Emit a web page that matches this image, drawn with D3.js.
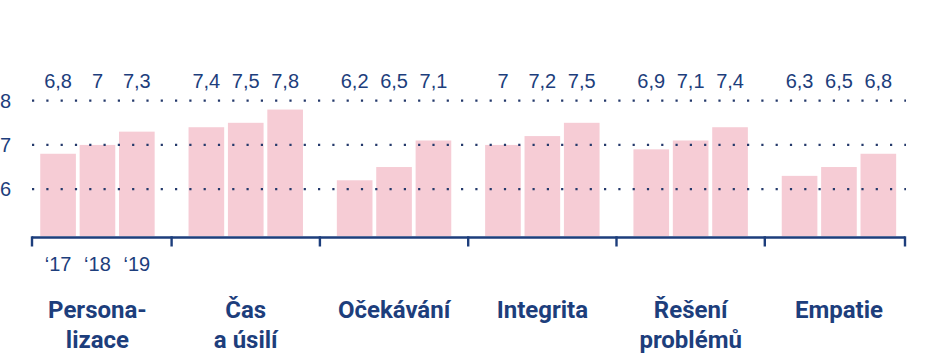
<!DOCTYPE html>
<html>
<head>
<meta charset="utf-8">
<script src="https://cdn.jsdelivr.net/npm/d3@7"></script>
<style>
  html, body { margin: 0; padding: 0; background: #fff; }
  svg { display: block; }
</style>
</head>
<body>
<svg id="chart" width="937" height="357"></svg>
<script>
// ---- data ----
const categories = [["Persona-", "lizace"], ["Čas", "a úsilí"], ["Očekávání"], ["Integrita"], ["Řešení", "problémů"], ["Empatie"]];
const years = ["‘17", "‘18", "‘19"];
const values2017 = [6.8, 7.4, 6.2, 7.0, 6.9, 6.3];
const values2018 = [7.0, 7.5, 6.5, 7.2, 7.1, 6.5];
const values2019 = [7.3, 7.8, 7.1, 7.5, 7.4, 6.8];
const yTicks = [6, 7, 8];

const series = [values2017, values2018, values2019];
const fmt = v => String(v).replace(".", ",");

// ---- layout ----
const navy = "#1d3e7c";
const pink = "#f6ccd5";
const numFont = "'Liberation Sans', Arial, sans-serif";
const svg = d3.select("#chart");

const catIdx = d3.range(categories.length);
const x0 = d3.scaleBand().domain(catIdx).range([23.3, 913.1]).paddingInner(0).paddingOuter(0);
const x1 = d3.scaleBand().domain(d3.range(years.length)).range([0, x0.bandwidth()])
  .paddingInner(0.095).paddingOuter(0.43);
const y = d3.scaleLinear().domain([4.94, 8]).range([236, 100.7]);

const axisLeft = 32, axisRight = 905;

// bars
const groups = svg.append("g").selectAll("g").data(catIdx).join("g")
  .attr("transform", c => `translate(${x0(c)},0)`);
groups.selectAll("rect").data(c => series.map((s, i) => ({ i, v: s[c] }))).join("rect")
  .attr("x", d => x1(d.i))
  .attr("width", x1.bandwidth())
  .attr("y", d => y(d.v))
  .attr("height", d => y.range()[0] - y(d.v))
  .attr("fill", pink);

// dotted gridlines (on top of bars)
svg.append("g").selectAll("line").data(yTicks).join("line")
  .attr("x1", axisLeft).attr("x2", axisRight + 1)
  .attr("y1", d => y(d)).attr("y2", d => y(d))
  .attr("stroke", "#24396b").attr("stroke-width", 2.2)
  .attr("stroke-dasharray", "2.2,12.1");

// y tick labels
svg.append("g").selectAll("text").data(yTicks).join("text")
  .attr("x", 0).attr("y", d => y(d)).attr("dy", "0.36em")
  .attr("fill", navy).attr("font-family", numFont)
  .attr("font-size", 20).text(d => d);

// value labels
groups.selectAll("text.val").data(c => series.map((s, i) => ({ i, v: s[c] }))).join("text")
  .attr("class", "val")
  .attr("x", d => x1(d.i) + x1.bandwidth() / 2)
  .attr("y", 88)
  .attr("text-anchor", "middle")
  .attr("fill", navy).attr("font-family", numFont)
  .attr("font-size", 20).text(d => fmt(d.v));

// x axis
const axisY = 237.5;
const tickXs = [axisLeft, ...catIdx.slice(1).map(c => x0(c)), axisRight];
svg.append("line").attr("x1", axisLeft).attr("x2", axisRight)
  .attr("y1", axisY).attr("y2", axisY)
  .attr("stroke", navy).attr("stroke-width", 2.4);
svg.append("g").selectAll("line").data(tickXs).join("line")
  .attr("x1", d => d).attr("x2", d => d)
  .attr("y1", axisY - 1.2).attr("y2", axisY + 9)
  .attr("stroke", navy).attr("stroke-width", 2.4);

// year labels (under first group only)
svg.append("g").attr("transform", `translate(${x0(0)},0)`)
  .selectAll("text").data(years).join("text")
  .attr("x", (d, i) => x1(i) + x1.bandwidth() / 2)
  .attr("y", 271)
  .attr("text-anchor", "middle")
  .attr("fill", navy).attr("font-family", numFont)
  .attr("font-size", 20).text(d => d);

// category labels
svg.append("g").selectAll("text").data(catIdx).join("text")
  .attr("x", c => x0(c) + x0.bandwidth() / 2)
  .attr("y", 318)
  .attr("text-anchor", "middle")
  .attr("fill", navy).attr("font-family", "Roboto, sans-serif")
  .attr("font-weight", "bold").attr("font-size", 24)
  .selectAll("tspan").data(c => categories[c]).join("tspan")
  .attr("x", function () { return d3.select(this.parentNode).attr("x"); })
  .attr("dy", (d, i) => i === 0 ? 0 : 30)
  .text(d => d);
</script>
</body>
</html>
